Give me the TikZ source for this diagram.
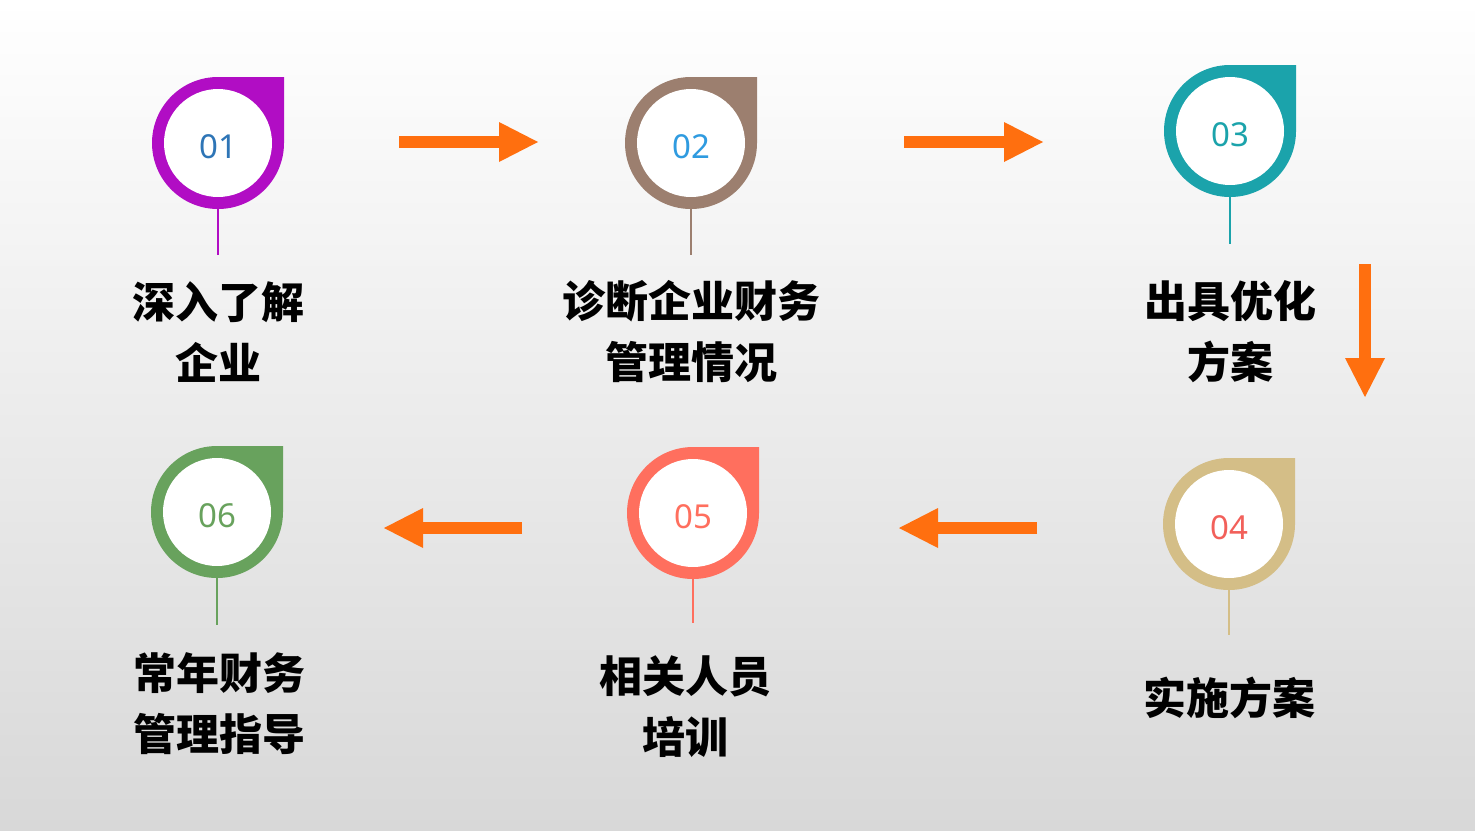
\documentclass[tikz,border=0pt]{standalone}
\usepackage{fontspec}
\setmainfont{Noto Sans}
\newfontfamily\cjk{Noto Sans CJK SC}
\usetikzlibrary{arrows.meta}
\definecolor{ringA}{HTML}{B10DC4}
\definecolor{ringB}{HTML}{9C7F6F}
\definecolor{ringC}{HTML}{1BA3AB}
\definecolor{ringD}{HTML}{D4BE87}
\definecolor{ringE}{HTML}{FF6F5E}
\definecolor{ringF}{HTML}{68A25D}
\definecolor{numA}{HTML}{2E75B6}
\definecolor{numB}{HTML}{2F9BE0}
\definecolor{numD}{HTML}{F2605A}
\definecolor{flowc}{HTML}{FF6F0F}
\definecolor{bgend}{HTML}{D8D8D8}
% #1 name, #2 x, #3 y, #4 ring colour, #5 number colour, #6 number
\newcommand\steppin[6]{%
\fill[#4] (#2,#3+66) -- (#2+66,#3+66) -- (#2+66,#3)
 arc[start angle=0,end angle=-270,radius=66] -- cycle;
\node[num,text=#5] (#1) at (#2,#3) {\raisebox{-3.5bp}[\height][\depth]{#6}};
}
\begin{document}
\begin{tikzpicture}[x=1bp,y=1bp,
 num/.style={circle,fill=white,minimum size=108bp,inner sep=0pt,
  font=\fontsize{33bp}{33bp}\selectfont},
 stem/.style={line width=1.5bp},
 flow/.style={draw=flowc,line width=12bp,
  -{Triangle[length=39bp,width=40bp,line width=0pt]}},
 lbl/.style={align=center,inner sep=0pt,
  font=\cjk\bfseries\fontsize{43bp}{61bp}\selectfont}]
\useasboundingbox (0,0) rectangle (1475,-830);
\shade[top color=white,bottom color=bgend] (0,0) rectangle (1475,-830);
% steps
\steppin{p1}{218}{-143}{ringA}{numA}{01}
\steppin{p2}{691}{-143}{ringB}{numB}{02}
\steppin{p3}{1230}{-131}{ringC}{ringC}{03}
\steppin{p4}{1229}{-524}{ringD}{numD}{04}
\steppin{p5}{693}{-513}{ringE}{ringE}{05}
\steppin{p6}{217}{-512}{ringF}{ringF}{06}
\coordinate (s1) at (218,-255);
\coordinate (s2) at (691,-255);
\coordinate (s3) at (1230,-244);
\coordinate (s4) at (1229,-635);
\coordinate (s5) at (693,-623);
\coordinate (s6) at (217,-625);
\draw[stem,ringA] (p1.south) -- (s1);
\draw[stem,ringB] (p2.south) -- (s2);
\draw[stem,ringC] (p3.south) -- (s3);
\draw[stem,ringD] (p4.south) -- (s4);
\draw[stem,ringE] (p5.south) -- (s5);
\draw[stem,ringF] (p6.south) -- (s6);
% labels
\node[lbl] (t1) at (218,-332) {深入了解\\企业};
\node[lbl] (t2) at (691,-332) {诊断企业财务\\管理情况};
\node[lbl] (t3) at (1230,-332) {出具优化\\方案};
\node[lbl] (t4) at (1229,-698) {实施方案};
\node[lbl] (t5) at (685,-707) {相关人员\\培训};
\node[lbl] (t6) at (219,-704) {常年财务\\管理指导};
% arrows
\coordinate (f1a) at (399,-142);
\coordinate (f1b) at (538,-142);
\coordinate (f2a) at (904,-142);
\coordinate (f2b) at (1043,-142);
\coordinate (f3a) at (1365,-264);
\coordinate (f3b) at (1365,-397);
\coordinate (f4a) at (1037,-528);
\coordinate (f4b) at (899,-528);
\coordinate (f5a) at (522,-528);
\coordinate (f5b) at (384,-528);
\draw[flow] (f1a) -- (f1b);
\draw[flow] (f2a) -- (f2b);
\draw[flow] (f3a) -- (f3b);
\draw[flow] (f4a) -- (f4b);
\draw[flow] (f5a) -- (f5b);
\end{tikzpicture}
\end{document}
